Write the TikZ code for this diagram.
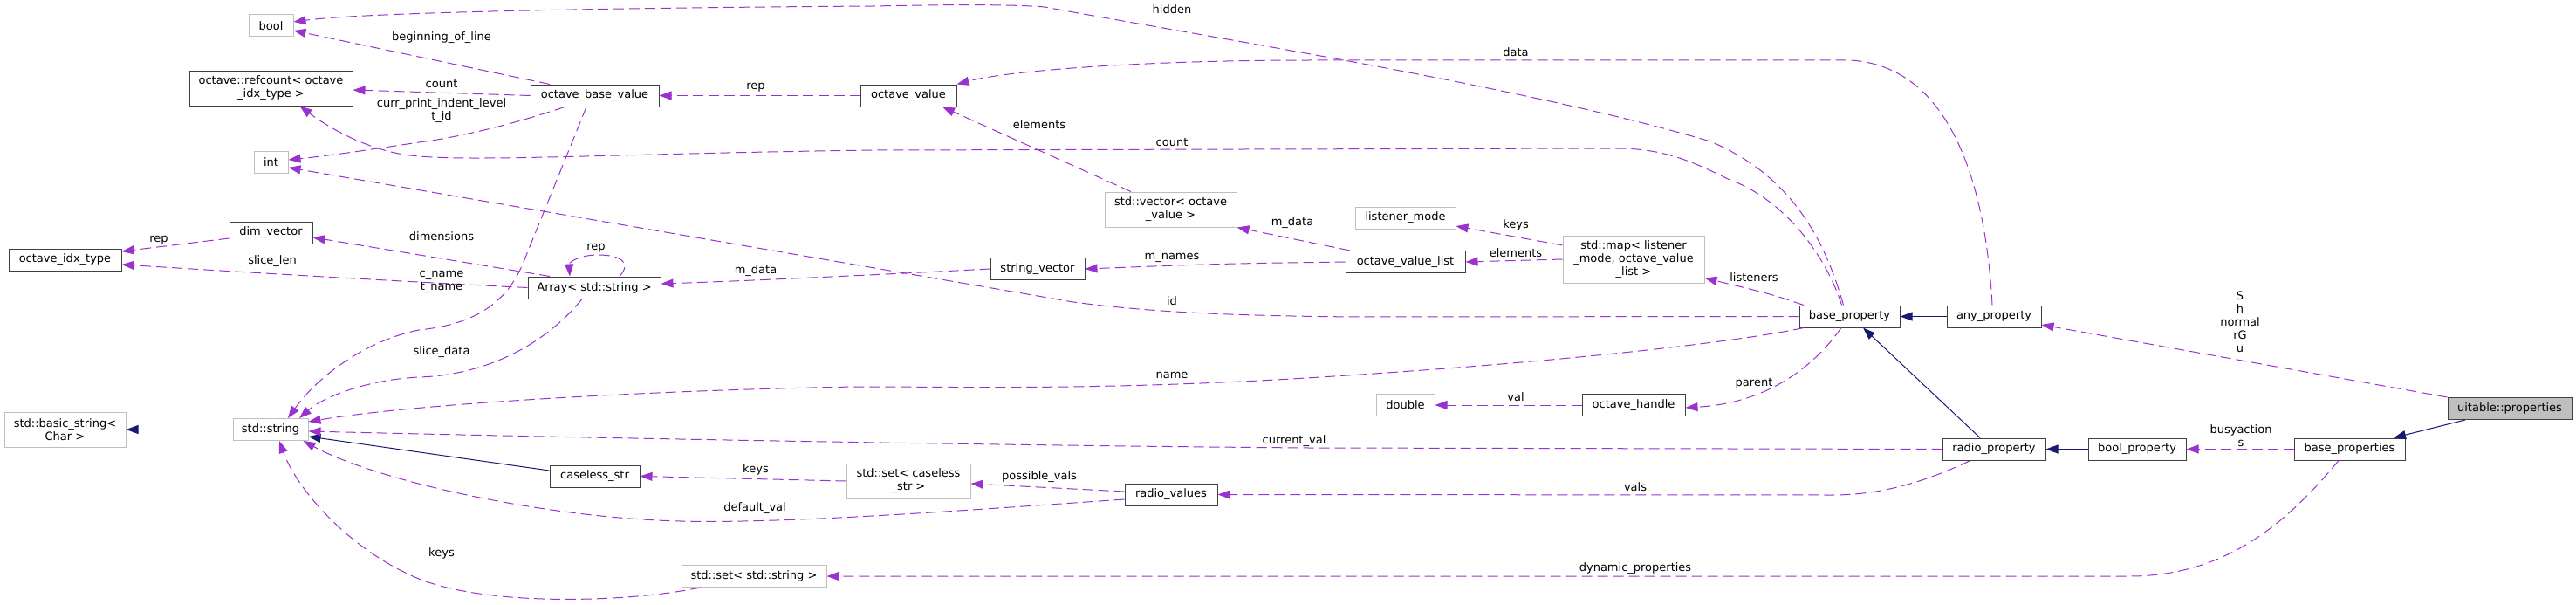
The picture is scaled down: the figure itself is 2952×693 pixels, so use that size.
\documentclass[tikz,border=0pt]{standalone}
\usepackage{fontspec}
\setmainfont{DejaVu Sans}
\usetikzlibrary{arrows.meta}
\definecolor{depc}{HTML}{9A32CD}
\definecolor{inhc}{HTML}{191970}
\definecolor{grayb}{HTML}{BFBFBF}
\definecolor{darkb}{HTML}{404040}
\begin{document}
\begin{tikzpicture}[x=1pt,y=-1pt,
  font=\fontsize{13}{15}\selectfont,
  cls/.style={draw=darkb, line width=1pt, fill=white, inner sep=0pt, align=center, minimum height=25pt},
  ext/.style={cls, draw=grayb},
  depl/.style={draw=depc, line width=1pt, dash pattern=on 12pt off 6pt, -{Triangle[length=14pt,width=10pt]}},
  inh/.style={draw=inhc, line width=1pt, -{Triangle[length=14pt,width=10pt]}},
  lbl/.style={inner sep=0pt, align=center}
]
\useasboundingbox (0,0) rectangle (2952,693);
\fill[white] (0,0) rectangle (2952,693);

% nodes
\node[ext, minimum width=51pt] (bool) at (310.5,29.5) {bool};
\node[cls, minimum width=187pt, minimum height=40pt] (refcount) at (310.5,101) {octave::refcount< octave\\\_idx\_type >};
\node[ext, minimum width=39pt] (int) at (310.5,185.5) {int};
\node[cls, minimum width=95pt] (dim) at (310.5,266.5) {dim\_vector};
\node[cls, minimum width=129pt] (oit) at (74.5,297.5) {octave\_idx\_type};
\node[cls, minimum width=147pt] (obv) at (681.5,109.5) {octave\_base\_value};
\node[cls, minimum width=152pt] (arr) at (681,329.5) {Array< std::string >};
\node[cls, minimum width=110pt] (ov) at (1041,109.5) {octave\_value};
\node[ext, minimum width=151pt, minimum height=40pt] (vec) at (1341.5,240) {std::vector< octave\\\_value >};
\node[cls, minimum width=108pt] (sv) at (1189,308) {string\_vector};
\node[ext, minimum width=115pt] (lm) at (1610.5,249.5) {listener\_mode};
\node[cls, minimum width=137pt] (ovl) at (1610.5,300) {octave\_value\_list};
\node[ext, minimum width=162pt, minimum height=54pt] (map) at (1872,297) {std::map< listener\\\_mode, octave\_value\\\_list >};
\node[cls, minimum width=115pt] (bp) at (2119.5,362.5) {base\_property};
\node[cls, minimum width=108pt] (ap) at (2285,362.5) {any\_property};
\node[cls, minimum width=118pt] (rp) at (2285,514.5) {radio\_property};
\node[cls, minimum width=112pt] (boolp) at (2449,514.5) {bool\_property};
\node[cls, minimum width=127pt] (bps) at (2692.5,514.5) {base\_properties};
\node[cls, minimum width=142pt, fill=grayb] (ut) at (2876,468) {uitable::properties};
\node[ext, minimum width=139pt, minimum height=40pt] (bs) at (74.5,492) {std::basic\_string<\\Char >};
\node[ext, minimum width=86pt] (str) at (310,492) {std::string};
\node[cls, minimum width=103pt] (cs) at (681.5,545.5) {caseless\_str};
\node[ext, minimum width=166pt] (sss) at (864,660) {std::set< std::string >};
\node[ext, minimum width=142pt, minimum height=40pt] (scs) at (1041,551) {std::set< caseless\\\_str >};
\node[cls, minimum width=106pt] (rv) at (1342,566.5) {radio\_values};
\node[ext, minimum width=67pt] (dbl) at (1610.5,464) {double};
\node[cls, minimum width=118pt] (oh) at (1872,464) {octave\_handle};

% inheritance
\draw[inh] (str.west) -- (bs.east);
\draw[inh] ([yshift=6.5pt]cs.west) -- ([yshift=-8pt]str.east);
\draw[inh] (ap.west) -- (bp.east);
\draw[inh] ([xshift=-16pt]rp.north) -- ([xshift=15.5pt]bp.south);
\draw[inh] (boolp.west) -- (rp.east);
\draw[inh] ([xshift=-51pt]ut.south) -- ([xshift=50.5pt]bps.north);

% usage
\draw[depl] ([xshift=-7pt]bp.north) .. controls (2090,270) and (2050,200) .. (1960,162) .. controls (1750,100) and (1400,45) .. (1197,8) .. controls (1150,4) and (1050,6) .. (1000,7) .. controls (700,9) and (420,14) .. ([yshift=4.5pt]bool.east);
\draw[depl] ([xshift=-9pt]bp.north) .. controls (2095,300) and (2050,230) .. (1980,205) .. controls (1930,180) and (1900,170) .. (1850,170) -- (1000,172) .. controls (700,176) and (540,186) .. (470,178) .. controls (420,172) and (375,145) .. ([xshift=33pt]refcount.south);
\draw[depl] (bp.west) -- (1560,363) .. controls (1420,362) and (1320,358) .. (1230,346) -- ([yshift=-6.5pt]int.east);
\draw[depl] ([xshift=-52.5pt]bp.south) .. controls (2000,390) and (1800,415) .. (1480,434) .. controls (1250,447) and (1100,443) .. (980,443) .. controls (750,447) and (480,462) .. ([yshift=9pt]str.east);
\draw[depl] (rp.west) -- (1500,513) .. controls (1100,510) and (600,500) .. ([yshift=-2pt]str.east);
\draw[depl] ([yshift=-5.5pt]rv.west) .. controls (1100,585) and (900,600) .. (780,597) .. controls (620,593) and (430,550) .. ([xshift=-6pt]str.south east);
\draw[depl] ([xshift=-61pt]sss.south) .. controls (720,690) and (560,695) .. (480,663) .. controls (400,630) and (340,560) .. ([xshift=10pt]str.south);
\draw[depl] ([xshift=-9.5pt]obv.south) -- (600,300) .. controls (580,350) and (540,372) .. (480,378) .. controls (420,390) and (365,430) .. ([xshift=20pt]str.north);
\draw[depl] ([xshift=-14pt]arr.south) .. controls (620,400) and (550,430) .. (480,432) .. controls (420,435) and (370,455) .. ([xshift=33pt]str.north);
\draw[depl] ([xshift=-51.5pt]obv.north) -- ([yshift=-5.5pt]bool.east);
\draw[depl] (obv.west) -- ([yshift=-2pt]refcount.east);
\draw[depl] ([xshift=-34.5pt]obv.south) .. controls (580,145) and (520,158) .. (480,163) .. controls (420,172) and (380,178) .. ([yshift=2.5pt]int.east);
\draw[depl] (ov.west) -- (obv.east);
\draw[depl] ([xshift=-2pt]ap.north) .. controls (2275,200) and (2230,75) .. (2120,69) -- (1500,69) .. controls (1300,69) and (1150,82) .. (ov.north east);
\draw[depl] ([xshift=-45.5pt]vec.north) -- ([xshift=39pt]ov.south);
\draw[depl] ([xshift=-63.5pt]ovl.north) -- (vec.south east);
\draw[depl] (ovl.west) .. controls (1400,302) .. (sv.east);
\draw[depl] (sv.west) .. controls (1000,315) and (850,322) .. ([yshift=4.5pt]arr.east);
\draw[depl] ([xshift=29pt]arr.north) .. controls (725,300) and (710,292) .. (685,292) .. controls (665,292) and (652,300) .. ([xshift=-28pt]arr.north);
\draw[depl] ([xshift=-51pt]arr.north) -- ([yshift=-5.5pt]dim.east);
\draw[depl] (arr.west) .. controls (450,322) and (250,310) .. ([yshift=-5.5pt]oit.east);
\draw[depl] ([yshift=-6.5pt]dim.west) -- ([yshift=9.5pt]oit.east);
\draw[depl] ([yshift=16pt]map.west) -- ([yshift=-9.5pt]lm.east);
\draw[depl] (map.west) -- (ovl.east);
\draw[depl] ([xshift=-52.5pt]bp.north) .. controls (2030,337) .. ([yshift=6pt]map.south east);
\draw[depl] ([xshift=-9.5pt]bp.south) .. controls (2075,425) and (2020,462) .. ([yshift=-3pt]oh.east);
\draw[depl] (oh.west) -- (dbl.east);
\draw[depl] ([xshift=-27pt]rp.south) .. controls (2200,555) and (2150,567) .. (2100,567) -- (rv.east);
\draw[depl] ([yshift=3.5pt]rv.west) -- ([yshift=-3pt]scs.east);
\draw[depl] (scs.west) -- (cs.east);
\draw[depl] (bps.west) -- (boolp.east);
\draw[depl] (ut.north west) -- ([yshift=-9.5pt]ap.east);
\draw[depl] ([xshift=-12.5pt]bps.south) .. controls (2620,600) and (2550,660) .. (2440,660) -- (sss.east);

% labels
\node[lbl] (l1) at (1343,11) {hidden};
\node[lbl] (l2) at (1343,163) {count};
\node[lbl] (l3) at (1343,345) {id};
\node[lbl] (l4) at (1343,430) {name};
\node[lbl] (l5) at (1483,505) {current\_val};
\node[lbl] (l6) at (865,582) {default\_val};
\node[lbl] (l7) at (506,634) {keys};
\node[lbl] (l8) at (506,323) {c\_name\\t\_name};
\node[lbl] (l9) at (506,403) {slice\_data};
\node[lbl] (l10) at (506,43) {beginning\_of\_line};
\node[lbl] (l11) at (506,96) {count};
\node[lbl] (l12) at (506,127) {curr\_print\_indent\_level\\t\_id};
\node[lbl] (l13) at (866,100) {rep};
\node[lbl] (l14) at (1737,60) {data};
\node[lbl] (l15) at (1191,143) {elements};
\node[lbl] (l16) at (1481,255) {m\_data};
\node[lbl] (l17) at (1343,295) {m\_names};
\node[lbl] (l18) at (866,310) {m\_data};
\node[lbl] (l19) at (683,284) {rep};
\node[lbl] (l20) at (506,271) {dimensions};
\node[lbl] (l21) at (312,299) {slice\_len};
\node[lbl] (l22) at (182,275) {rep};
\node[lbl] (l23) at (1737,258) {keys};
\node[lbl] (l24) at (1737,290) {elements};
\node[lbl] (l25) at (2010,318) {listeners};
\node[lbl] (l26) at (2010,439) {parent};
\node[lbl] (l27) at (1737,455) {val};
\node[lbl] (l28) at (1874,558) {vals};
\node[lbl] (l29) at (1191,546) {possible\_vals};
\node[lbl] (l30) at (866,538) {keys};
\node[lbl] (l31) at (2568,499) {busyaction\\s};
\node[lbl] (l32) at (2567,369) {S\\h\\normal\\rG\\u};
\node[lbl] (l33) at (1874,651) {dynamic\_properties};
\end{tikzpicture}
\end{document}
